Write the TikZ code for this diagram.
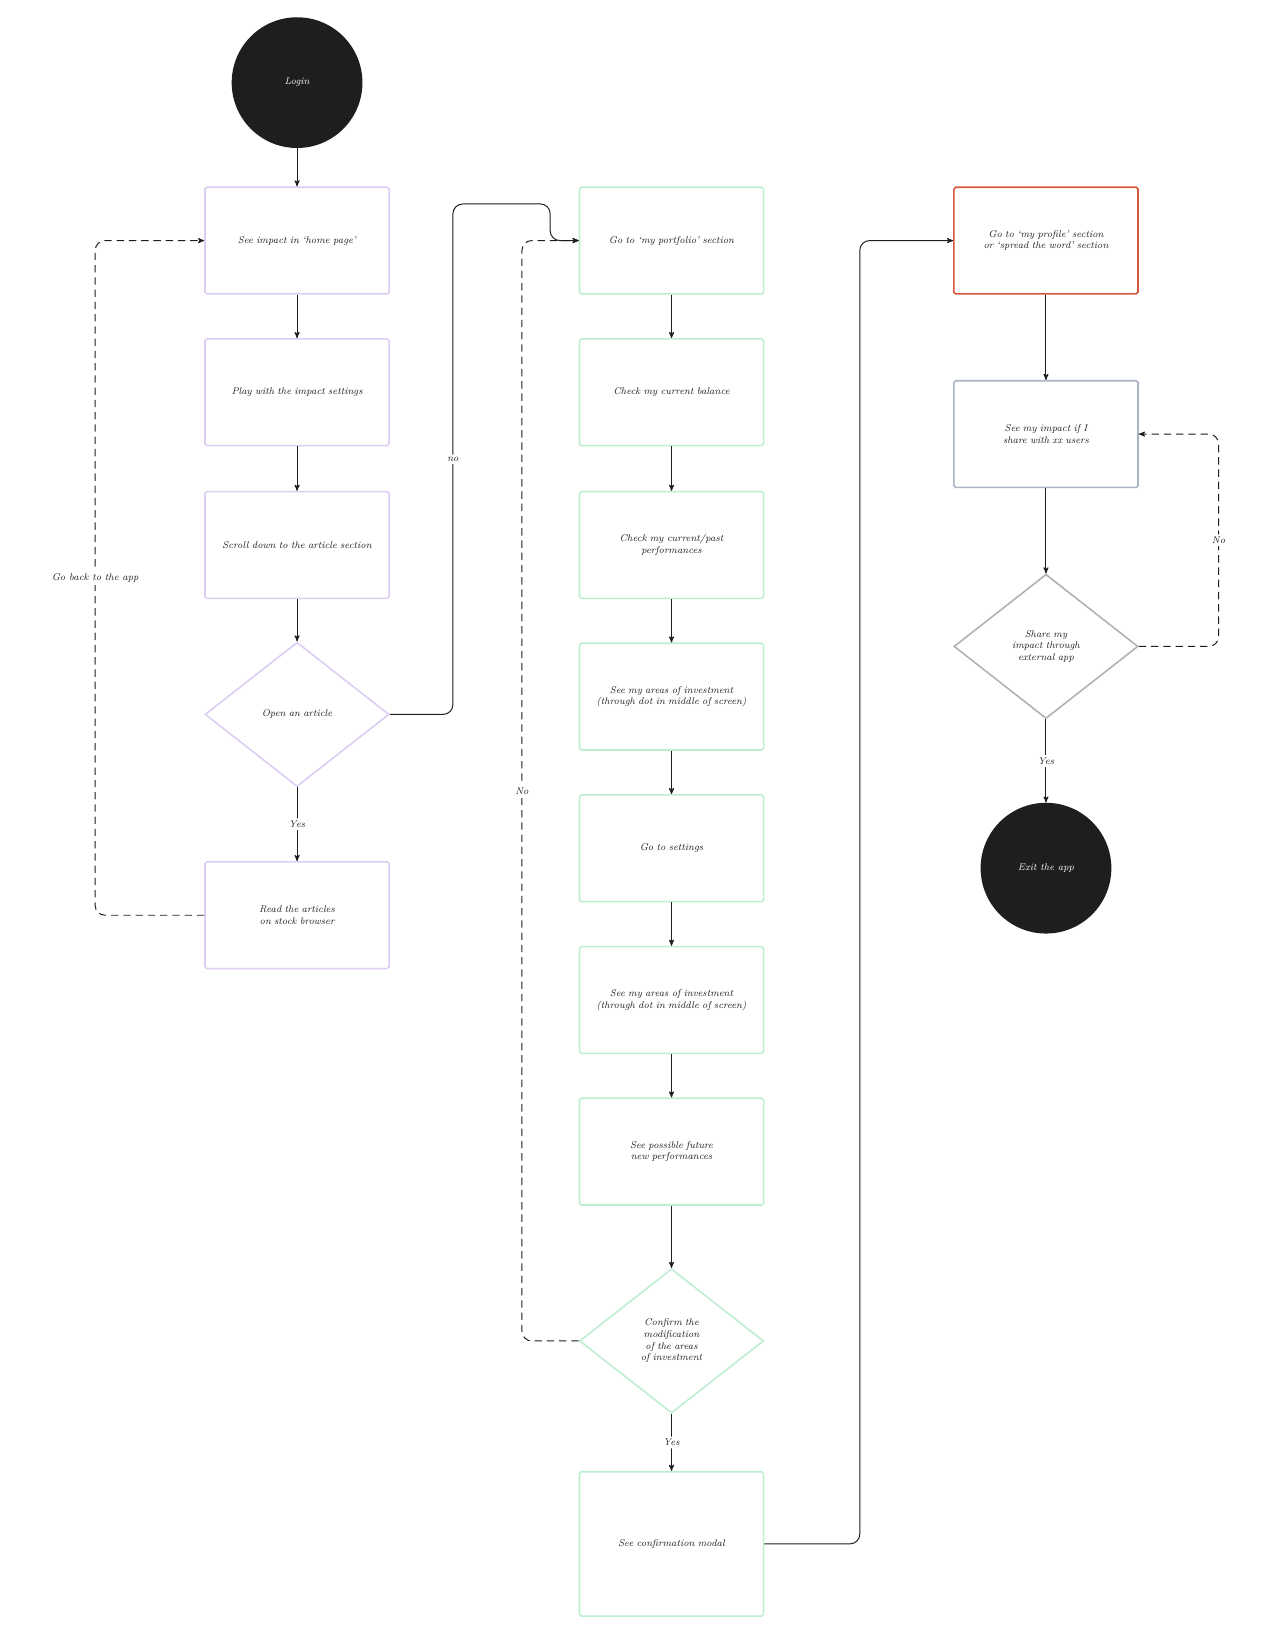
\documentclass[tikz,border=0pt]{standalone}
\usepackage{tikz}
\usetikzlibrary{positioning, arrows, shapes}
\definecolor{lila}{RGB}{221, 205, 243}
\definecolor{menta}{RGB}{190, 238, 208}
\definecolor{teja}{RGB}{214, 88, 60}
\definecolor{pizarra}{RGB}{170, 180, 196}
\definecolor{gris}{RGB}{178, 178, 178}
\definecolor{tinta}{RGB}{30, 30, 30}
\newcommand{\letra}{\footnotesize\itshape\hyphenpenalty=10000\exhyphenpenalty=10000\relax}
\tikzset{
    paso/.style={draw, rectangle, rounded corners=1.5pt, line width=1.3pt, fill=white, text=tinta,
                 minimum width=176*0.03cm, minimum height=102*0.03cm, text width=4.3cm, align=center,
                 font=\letra},
    pasoLila/.style={paso, draw=lila},
    pasoMenta/.style={paso, draw=menta},
    duda/.style={draw, diamond, line width=1.3pt, fill=white, text=tinta, aspect=1.27,
                 minimum width=176*0.03cm, minimum height=138*0.03cm, inner sep=0pt,
                 text width=2.2cm, align=center, font=\letra},
    borde/.style={draw=none, circle, fill=tinta, text=white, minimum size=125*0.03cm,
                  font=\footnotesize\itshape},
    flecha/.style={->, >=stealth', thick, tinta, rounded corners=8pt},
    vuelta/.style={flecha, dashed, dash pattern=on 6pt off 4pt},
    etq/.style={fill=white, inner sep=2pt, text=tinta, font=\footnotesize\itshape},
}
\begin{document}
\begin{tikzpicture}[x=0.03cm, y=-0.03cm]
    \useasboundingbox[fill=white] (0,0) rectangle (1224,1566);

    % left column
    \node [borde] (login) at (284,79) {Login};
    \node [pasoLila] (home) at (284,230) {See impact in `home page'};
    \node [pasoLila] (play) at (284,375) {Play with the impact settings};
    \node [pasoLila] (scroll) at (284,521) {Scroll down to the article section};
    \node [duda, draw=lila] (open) at (284,683) {Open an article};
    \node [pasoLila] (read) at (284,875) {Read the articles on stock browser};

    % middle column
    \node [pasoMenta] (port) at (642,230) {Go to `my portfolio' section};
    \node [pasoMenta] (bal) at (642,375) {Check my current balance};
    \node [pasoMenta] (perf) at (642,521) {Check my current/past performances};
    \node [pasoMenta] (areas) at (642,666) {See my areas of investment (through dot in middle of screen)};
    \node [pasoMenta] (sett) at (642,811) {Go to settings};
    \node [pasoMenta] (areasb) at (642,956) {See my areas of investment (through dot in middle of screen)};
    \node [pasoMenta] (fut) at (642,1101) {See possible future new performances};
    \node [duda, draw=menta] (conf) at (642,1282) {Confirm the modification of the areas of investment};
    \node [pasoMenta, minimum height=138*0.03cm] (modal) at (642,1476) {See confirmation modal};

    % right column
    \node [paso, draw=teja] (prof) at (1000,230) {Go to `my profile' section or `spread the word' section};
    \node [paso, draw=pizarra] (share) at (1000,415) {See my impact if I share with xx users};
    \node [duda, draw=gris] (ext) at (1000,618) {Share my impact through external app};
    \node [borde] (exit) at (1000,830) {Exit the app};

    \draw[flecha] (login) -- (home);
    \draw[flecha] (home) -- (play);
    \draw[flecha] (play) -- (scroll);
    \draw[flecha] (scroll) -- (open);
    \draw[flecha] (open) -- node[etq] {Yes} (read);
    \draw[vuelta] (read.west) -- (91,875) -- node[etq, pos=0.5] {Go back to the app} (91,230) -- (home.west);
    \draw[flecha] (open.east) -- (433,683) -- node[etq, pos=0.5] {no} (433,195) -- (526,195) -- (526,230) -- (port.west);

    \draw[flecha] (port) -- (bal);
    \draw[flecha] (bal) -- (perf);
    \draw[flecha] (perf) -- (areas);
    \draw[flecha] (areas) -- (sett);
    \draw[flecha] (sett) -- (areasb);
    \draw[flecha] (areasb) -- (fut);
    \draw[flecha] (fut) -- (conf);
    \draw[flecha] (conf) -- node[etq] {Yes} (modal);
    \draw[vuelta] (conf.west) -- (499,1282) -- node[etq, pos=0.5] {No} (499,230) -- (port.west);
    \draw[flecha] (modal.east) -- (822,1476) -- (822,230) -- (prof.west);

    \draw[flecha] (prof) -- (share);
    \draw[flecha] (share) -- (ext);
    \draw[flecha] (ext) -- node[etq] {Yes} (exit);
    \draw[vuelta] (ext.east) -- (1165,618) -- node[etq, pos=0.5] {No} (1165,415) -- (share.east);
\end{tikzpicture}
\end{document}
